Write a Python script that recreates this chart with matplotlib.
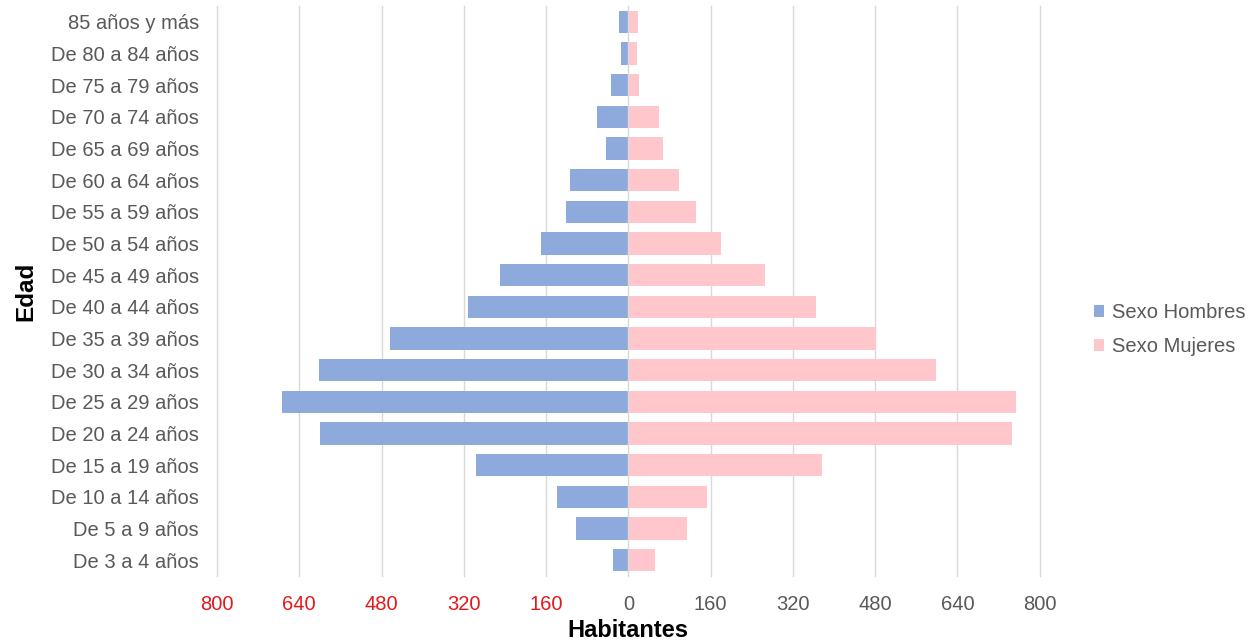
import numpy as np
import matplotlib
matplotlib.use('Agg')
import matplotlib.pyplot as plt

# Data
edades = ['De 3 a 4 años', 'De 5 a 9 años', 'De 10 a 14 años', 'De 15 a 19 años',
          'De 20 a 24 años', 'De 25 a 29 años', 'De 30 a 34 años', 'De 35 a 39 años',
          'De 40 a 44 años', 'De 45 a 49 años', 'De 50 a 54 años', 'De 55 a 59 años',
          'De 60 a 64 años', 'De 65 a 69 años', 'De 70 a 74 años', 'De 75 a 79 años',
          'De 80 a 84 años', '85 años y más']
hombres = [29, 101, 139, 297, 599, 673, 601, 464, 312, 250, 170, 122, 113, 44, 60, 34, 14, 18]
mujeres = [52, 114, 154, 376, 747, 755, 599, 482, 366, 265, 181, 131, 98, 67, 59, 21, 16, 18]
xticks = [-800, -640, -480, -320, -160, 0, 160, 320, 480, 640, 800]

plt.rcParams['font.family'] = ['Liberation Sans', 'DejaVu Sans']

fig = plt.figure(figsize=(12.51, 6.44), dpi=100)
ax = fig.add_axes([0.1735, 0.1056, 0.6575, 0.885])

y = np.arange(len(edades))
ax.barh(y, [-v for v in hombres], height=0.7, color='#8EA9DB', label='Sexo Hombres', zorder=3)
ax.barh(y, mujeres, height=0.7, color='#FFC7CC', label='Sexo Mujeres', zorder=3)

ax.set_xlim(-800, 800)
ax.set_ylim(-0.5, len(edades) - 0.5)
ax.set_yticks(y)
ax.set_yticklabels(edades, fontsize=14.5, color='#595959')
ax.set_xticks(xticks)
ax.set_xticklabels([str(abs(t)) for t in xticks], fontsize=14.5)
for lab, t in zip(ax.get_xticklabels(), xticks):
    lab.set_color('#E3191C' if t < 0 else '#595959')

ax.tick_params(axis='both', length=0)
ax.tick_params(axis='x', pad=14)
ax.tick_params(axis='y', pad=13)
# vertical grid lines, drawn by hand so the ones at the edges are not clipped
for t in xticks:
    ax.axvline(t, color='#D9D9D9', linewidth=1, zorder=0 if t != 0 else 4, clip_on=False)
for s in ax.spines.values():
    s.set_visible(False)

ax.set_xlabel('Habitantes', fontsize=17, fontweight='bold', labelpad=3)
ax.set_ylabel('Edad', fontsize=17.5, fontweight='bold', labelpad=10)

fig.legend(loc='center left', bbox_to_anchor=(0.86, 0.488), frameon=False,
           fontsize=14.5, handlelength=0.5, handleheight=0.5, handletextpad=0.4,
           labelspacing=0.75, labelcolor='#595959')

fig.savefig('out.png', dpi=100)
